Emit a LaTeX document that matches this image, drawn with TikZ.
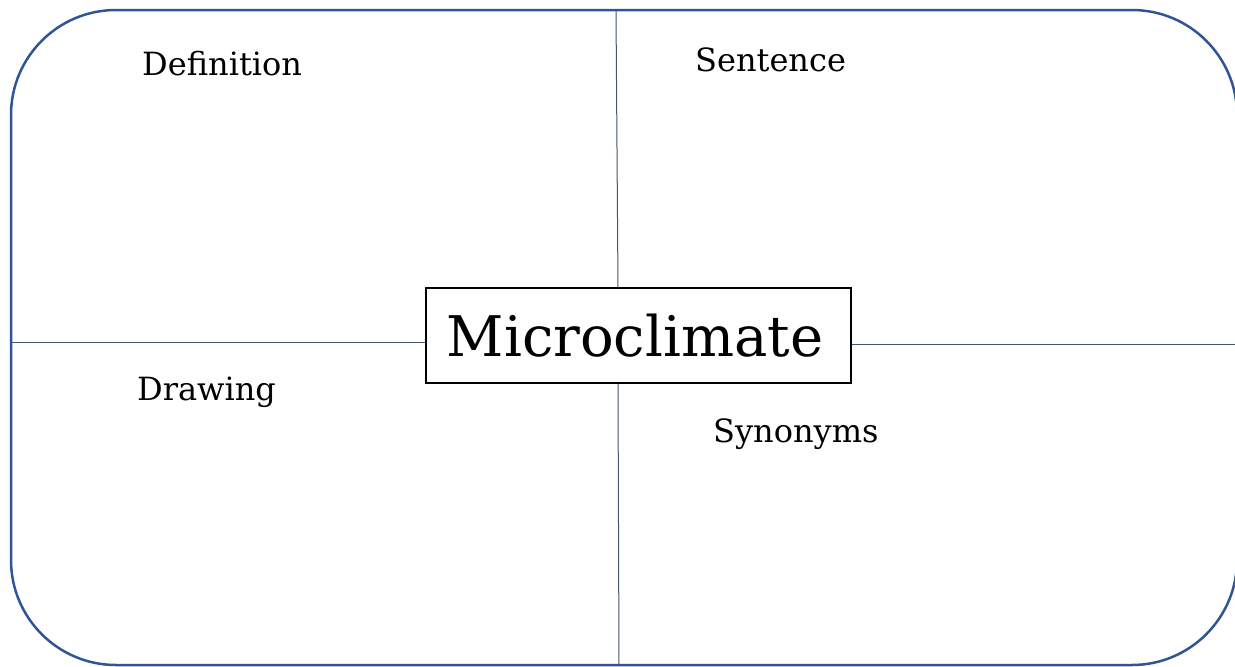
\documentclass[tikz,border=0pt]{standalone}
\usepackage{fontspec}
\setmainfont{DejaVu Serif}
\definecolor{frame}{HTML}{2F5597}
\definecolor{divider}{HTML}{44546A}
\begin{document}
\begin{tikzpicture}[x=1pt,y=-1pt,
  lbl/.style={anchor=base west,inner sep=0pt,font=\fontsize{32}{38}\selectfont},
  divline/.style={draw=divider,line width=1pt},
  titlebox/.style={draw=black,line width=1.2pt,minimum width=425pt,minimum height=95pt,inner sep=0pt,font=\fontsize{56}{64}\selectfont}]
\useasboundingbox (0,0) rectangle (1235,667);
\begin{scope}
\clip (0,0) rectangle (1235,667);
\draw[frame,line width=2.5pt,rounded corners=105pt] (11,10) rectangle (1237,665);
\end{scope}
\node[titlebox] (title) at (638.5,335.5) {\kern-7pt\raisebox{-4pt}{Microclimate}};
\coordinate (top) at (616,11);
\coordinate (bottom) at (619,665);
\coordinate (left) at (11,342);
\coordinate (right) at (1235,344);
\draw[divline] (top) -- (title.north -| 618,0);
\draw[divline] (title.south -| 618,0) -- (bottom);
\draw[divline] (left) -- (left -| title.west);
\draw[divline] (right -| title.east) -- (right);
\node[lbl] (def) at (142,75) {Definition};
\node[lbl] (sen) at (695,71) {Sentence};
\node[lbl] (dra) at (137,400) {Drawing};
\node[lbl] (syn) at (713,442) {Synonyms};
\end{tikzpicture}
\end{document}
